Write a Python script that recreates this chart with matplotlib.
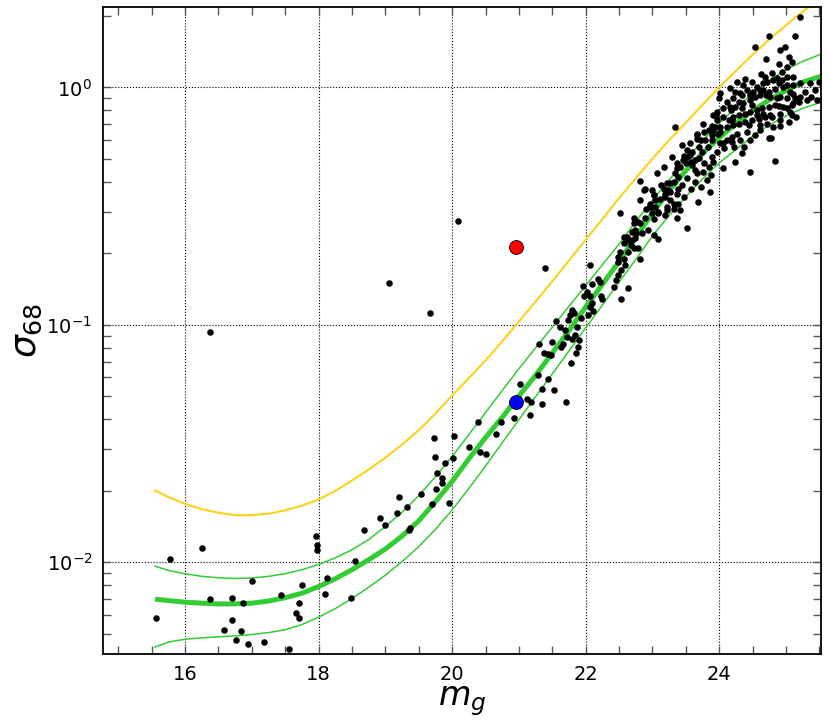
import numpy as np
import matplotlib
matplotlib.use("Agg")
import matplotlib.pyplot as plt
from matplotlib.ticker import MultipleLocator, LogLocator, NullFormatter

# model curves (mag, log10 sigma)
curve_mag = [15.55, 15.75, 16.0, 16.25, 16.5, 16.75, 17.0, 17.25, 17.5, 17.75, 18.0, 18.25, 18.5, 18.75,
             19.0, 19.25, 19.5, 19.75, 20.0, 20.25, 20.5, 20.75, 21.0, 21.25, 21.5, 21.75, 22.0, 22.25,
             22.5, 22.75, 23.0, 23.25, 23.5, 23.75, 24.0, 24.25, 24.5, 24.75, 25.0, 25.25, 25.55]
median_log = [-2.156, -2.162, -2.169, -2.173, -2.176, -2.176, -2.173, -2.164, -2.150, -2.131, -2.103, -2.070,
              -2.032, -1.990, -1.945, -1.890, -1.826, -1.745, -1.660, -1.565, -1.475, -1.390, -1.300, -1.213,
              -1.119, -1.024, -0.925, -0.830, -0.733, -0.630, -0.530, -0.435, -0.350, -0.278, -0.212, -0.152,
              -0.098, -0.052, -0.012, 0.022, 0.050]
upper_log = [-2.017, -2.035, -2.049, -2.060, -2.066, -2.069, -2.067, -2.060, -2.049, -2.032, -2.010, -1.982,
             -1.948, -1.905, -1.850, -1.790, -1.720, -1.640, -1.555, -1.463, -1.370, -1.277, -1.185, -1.097,
             -1.010, -0.922, -0.835, -0.747, -0.660, -0.565, -0.475, -0.390, -0.305, -0.225, -0.150, -0.085,
             -0.025, 0.030, 0.075, 0.110, 0.143]
lower_log = [-2.358, -2.337, -2.325, -2.319, -2.315, -2.311, -2.305, -2.297, -2.285, -2.263, -2.232, -2.196,
             -2.153, -2.106, -2.055, -1.998, -1.935, -1.862, -1.780, -1.690, -1.595, -1.497, -1.400, -1.303,
             -1.207, -1.110, -1.013, -0.917, -0.820, -0.725, -0.625, -0.540, -0.460, -0.385, -0.318, -0.262,
             -0.205, -0.158, -0.120, -0.088, -0.060]
limit_log = [-1.698, -1.726, -1.754, -1.777, -1.792, -1.802, -1.802, -1.796, -1.782, -1.762, -1.736, -1.700,
             -1.656, -1.610, -1.560, -1.505, -1.444, -1.374, -1.298, -1.225, -1.150, -1.070, -0.986, -0.902,
             -0.817, -0.729, -0.642, -0.555, -0.466, -0.383, -0.300, -0.222, -0.148, -0.073, 0.000, 0.070,
             0.138, 0.202, 0.262, 0.320, 0.385]

# individual objects: magnitude and log10(sigma_68)
obj_mag = [15.56, 15.77, 16.25, 16.37, 16.38, 16.59, 16.70, 16.70, 16.77, 16.84, 16.87, 16.95, 17.01,
           17.18, 17.44, 17.56, 17.66, 17.71, 17.71, 17.75, 17.96, 17.97, 17.98, 18.10, 18.13, 18.48,
           18.55, 18.68, 18.92, 19.00, 19.06, 19.17, 19.20, 19.33, 19.36, 19.37, 19.53, 19.67, 19.70,
           19.73, 19.75, 19.76, 19.78, 19.85, 19.85, 19.89, 19.95, 20.01, 20.03, 20.09, 20.26, 20.39,
           20.41, 20.51, 20.65, 20.73, 20.93, 21.01, 21.12, 21.17, 21.18, 21.28, 21.30, 21.35, 21.35,
           21.37, 21.39, 21.43, 21.44, 21.48, 21.50, 21.52, 21.55, 21.61, 21.63, 21.66, 21.69, 21.71,
           21.72, 21.73, 21.76, 21.78, 21.79, 21.79, 21.80, 21.82, 21.84, 21.85, 21.87, 21.89, 21.90,
           21.93, 21.96, 21.98, 22.02, 22.03, 22.06, 22.07, 22.07, 22.09, 22.10, 22.11, 22.18, 22.21,
           22.23, 22.24, 22.42, 22.46, 22.48, 22.49, 22.49, 22.51, 22.52, 22.53, 22.53, 22.57, 22.57,
           22.59, 22.63, 22.64, 22.64, 22.68, 22.69, 22.72, 22.72, 22.73, 22.74, 22.76, 22.79, 22.79,
           22.81, 22.81, 22.82, 22.88, 22.89, 22.91, 22.97, 22.99, 23.03, 23.03, 23.04, 23.07, 23.09,
           23.12, 23.13, 23.17, 23.19, 23.19, 23.22, 23.24, 23.26, 23.27, 23.29, 23.32, 23.32, 23.34,
           23.37, 23.37, 23.38, 23.39, 23.41, 23.42, 23.44, 23.46, 23.48, 23.51, 23.52, 23.52, 23.56,
           23.56, 23.59, 23.63, 23.66, 23.66, 23.67, 23.67, 23.69, 23.70, 23.76, 23.76, 23.79, 23.82,
           23.84, 23.84, 23.86, 23.88, 23.89, 23.89, 23.91, 23.91, 23.94, 23.95, 23.96, 23.98, 23.99,
           24.01, 24.01, 24.06, 24.06, 24.06, 24.06, 24.11, 24.14, 24.16, 24.16, 24.19, 24.21, 24.21,
           24.21, 24.24, 24.24, 24.26, 24.26, 24.29, 24.29, 24.29, 24.31, 24.34, 24.34, 24.36, 24.36,
           24.39, 24.39, 24.39, 24.41, 24.41, 24.46, 24.46, 24.46, 24.46, 24.49, 24.49, 24.51, 24.54,
           24.54, 24.54, 24.56, 24.57, 24.59, 24.61, 24.61, 24.61, 24.63, 24.64, 24.66, 24.69, 24.69,
           24.70, 24.70, 24.71, 24.74, 24.74, 24.74, 24.75, 24.76, 24.76, 24.78, 24.79, 24.81, 24.84,
           24.84, 24.84, 24.86, 24.89, 24.90, 24.91, 24.91, 24.91, 24.91, 24.94, 24.96, 24.98, 25.01,
           25.01, 25.01, 25.02, 25.04, 25.04, 25.06, 25.06, 25.09, 25.11, 25.11, 25.14, 25.14, 25.19,
           25.21, 25.21, 25.21, 25.29, 25.31, 25.36, 25.38, 25.44, 25.46, 25.49]
obj_log = [-2.235, -1.986, -1.942, -2.157, -1.029, -2.284, -2.153, -2.244, -2.327, -2.292, -2.174, -2.345, -2.080,
           -2.337, -2.139, -2.366, -2.213, -2.174, -2.236, -2.097, -1.889, -1.928, -1.947, -2.136, -2.066, -2.153,
           -1.996, -1.865, -1.815, -1.844, -0.824, -1.792, -1.725, -1.767, -1.865, -1.858, -1.711, -0.951, -1.756,
           -1.479, -1.557, -1.690, -1.625, -1.668, -1.645, -1.582, -1.753, -1.563, -1.469, -0.564, -1.514, -1.409,
           -1.537, -1.543, -1.462, -1.409, -1.392, -1.251, -1.313, -1.378, -1.325, -1.212, -1.079, -1.272, -1.334,
           -1.117, -0.760, -1.229, -1.121, -1.128, -1.074, -1.275, -0.983, -1.011, -1.093, -1.079, -1.020, -1.325,
           -1.051, -0.980, -0.959, -1.159, -0.938, -0.945, -1.058, -0.952, -1.044, -1.117, -1.009, -1.093, -1.062,
           -0.973, -0.837, -0.879, -0.861, -0.959, -0.879, -0.749, -0.927, -0.907, -0.829, -0.941, -0.809, -0.819,
           -0.879, -0.893, -0.840, -0.812, -0.714, -0.791, -0.735, -0.527, -0.693, -0.893, -0.770, -0.721, -0.630,
           -0.749, -0.693, -0.847, -0.643, -0.664, -0.608, -0.573, -0.552, -0.678, -0.636, -0.615, -0.678, -0.566,
           -0.721, -0.393, -0.475, -0.430, -0.426, -0.510, -0.503, -0.430, -0.454, -0.555, -0.475, -0.362, -0.531,
           -0.472, -0.412, -0.335, -0.450, -0.538, -0.503, -0.433, -0.402, -0.475, -0.292, -0.489, -0.398, -0.166,
           -0.341, -0.552, -0.379, -0.426, -0.517, -0.335, -0.243, -0.306, -0.289, -0.320, -0.264, -0.594, -0.285,
           -0.233, -0.327, -0.348, -0.201, -0.215, -0.362, -0.194, -0.250, -0.299, -0.356, -0.152, -0.222, -0.391,
           -0.335, -0.180, -0.442, -0.370, -0.163, -0.201, -0.313, -0.117, -0.166, -0.121, -0.138, -0.194, -0.046,
           -0.025, -0.187, -0.088, -0.124, -0.236, -0.341, -0.166, -0.138, -0.082, -0.004, -0.229, -0.046, -0.124,
           -0.159, -0.018, -0.316, 0.024, -0.194, -0.061, -0.117, -0.152, -0.222, -0.032, -0.278, 0.010, -0.067,
           0.034, -0.110, -0.145, -0.011, -0.187, -0.054, -0.103, -0.222, -0.356, 0.024, -0.138, -0.018, 0.171,
           -0.042, -0.201, -0.096, 0.003, -0.131, -0.011, -0.032, -0.180, 0.056, -0.088, 0.017, 0.045, -0.124,
           0.118, -0.032, -0.152, 0.216, -0.018, -0.082, -0.211, -0.042, -0.117, -0.213, 0.059, -0.166, -0.008,
           -0.075, -0.309, 0.038, 0.017, 0.098, 0.157, -0.040, -0.110, -0.163, 0.066, -0.082, 0.171, 0.087,
           0.045, 0.010, -0.046, 0.129, -0.145, -0.018, -0.103, -0.075, 0.010, 0.045, 0.216, -0.046, -0.061,
           0.297, 0.017, -0.040, -0.018, -0.054, 0.019, -0.040, -0.011, -0.054, 0.024]

# more objects in the dense faint end
dense_mag = [25.09, 24.71, 24.81, 24.94, 24.66, 24.96, 25.11, 24.31, 24.46, 24.86, 25.11, 25.01, 24.89,
             24.49, 24.24, 24.34, 24.56, 24.66, 24.79, 24.91, 25.09, 25.15, 24.17, 24.12, 23.97, 24.19,
             24.44, 24.61, 24.01, 23.91, 23.77, 23.72, 23.89, 24.01, 24.12, 24.19, 24.37, 24.22, 24.07,
             23.97, 23.89, 23.83, 23.74, 23.59, 23.52, 23.57, 23.64, 23.77, 23.37, 23.34, 23.52, 23.64,
             23.72, 23.68, 23.57, 23.44, 23.22, 23.17, 23.27, 23.37, 23.47, 23.39, 23.19, 23.02, 23.04,
             22.97, 22.99, 23.09, 23.22, 23.32, 22.89, 22.82, 22.74, 22.84, 22.94, 23.02, 23.09, 22.62,
             22.69, 22.57]
dense_log = [0.107, 0.024, 0.031, 0.031, -0.011, 0.000, -0.028, -0.025, -0.032, -0.046, -0.067, -0.088, -0.079,
             -0.074, -0.081, -0.088, -0.117, -0.110, -0.124, -0.135, -0.117, -0.124, -0.096, -0.060, -0.103, -0.138,
             -0.159, -0.159, -0.166, -0.180, -0.187, -0.222, -0.222, -0.236, -0.222, -0.208, -0.250, -0.250, -0.257,
             -0.271, -0.292, -0.250, -0.271, -0.271, -0.292, -0.313, -0.306, -0.320, -0.320, -0.362, -0.383, -0.397,
             -0.419, -0.482, -0.426, -0.412, -0.404, -0.426, -0.440, -0.447, -0.461, -0.489, -0.461, -0.454, -0.503,
             -0.489, -0.531, -0.524, -0.517, -0.510, -0.552, -0.573, -0.601, -0.615, -0.601, -0.622, -0.640, -0.629,
             -0.643, -0.657]

# two highlighted objects
red_mag, red_sigma = 20.95, 0.212
blue_mag, blue_sigma = 20.96, 0.0473

fig = plt.figure(figsize=(8.30, 7.27), dpi=100)
ax = fig.add_axes([0.1245, 0.1004, 0.8643, 0.8904])

cm = np.array(curve_mag)
ax.plot(cm, 10 ** np.array(limit_log), color='#ffd11a', lw=1.5, zorder=2)
ax.plot(cm, 10 ** np.array(upper_log), color='#33cc33', lw=1.1, zorder=2)
ax.plot(cm, 10 ** np.array(lower_log), color='#33cc33', lw=1.1, zorder=2)
ax.plot(cm, 10 ** np.array(median_log), color='#33cc33', lw=3.6, zorder=2,
        solid_capstyle='butt')

all_mag = obj_mag + dense_mag
all_log = obj_log + dense_log
ax.plot(all_mag, 10 ** np.array(all_log), 'o', color='black', ms=4.7, mew=0, zorder=3)
ax.plot([red_mag], [red_sigma], 'o', color='red', mec='black', mew=0.6, ms=10, zorder=4)
ax.plot([blue_mag], [blue_sigma], 'o', color='blue', mec='black', mew=0.6, ms=10, zorder=4)

ax.set_yscale('log')
ax.set_xlim(14.776, 25.52)
ax.set_ylim(0.0041, 2.19)

ax.xaxis.set_major_locator(MultipleLocator(2))
ax.xaxis.set_minor_locator(MultipleLocator(0.5))
ax.yaxis.set_minor_locator(LogLocator(base=10, subs=np.arange(2, 10)))
ax.yaxis.set_minor_formatter(NullFormatter())

ax.grid(True, which='major', color='black', linestyle=':', linewidth=0.8)
ax.tick_params(which='both', direction='in', top=True, right=True, color='#555555')
ax.tick_params(which='major', length=6, width=1.0, labelsize=14, pad=8)
ax.tick_params(which='minor', length=6, width=1.0)
for s in ax.spines.values():
    s.set_linewidth(1.3)

ax.set_xlabel(r'$m_g$', fontsize=24, labelpad=0)
ax.set_ylabel(r'$\sigma_{68}$', fontsize=26, labelpad=2)

fig.savefig('out.png', dpi=100)
